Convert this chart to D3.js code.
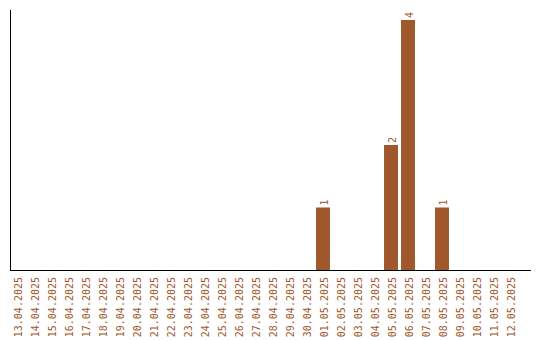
<!DOCTYPE html>
<html>
<head>
<meta charset="utf-8">
<script src="https://cdn.jsdelivr.net/npm/d3@7"></script>
<style>
  body { margin: 0; background: #fff; }
</style>
</head>
<body>
<div class="viz"></div>
<script>
const w = 540;
const h = 340;

const dates = ["13.04.2025", "14.04.2025", "15.04.2025", "16.04.2025", "17.04.2025",
    "18.04.2025", "19.04.2025", "20.04.2025", "21.04.2025", "22.04.2025",
    "23.04.2025", "24.04.2025", "25.04.2025", "26.04.2025", "27.04.2025",
    "28.04.2025", "29.04.2025", "30.04.2025", "01.05.2025", "02.05.2025",
    "03.05.2025", "04.05.2025", "05.05.2025", "06.05.2025", "07.05.2025",
    "08.05.2025", "09.05.2025", "10.05.2025", "11.05.2025", "12.05.2025"];
const counts = [0, 0, 0, 0, 0, 0, 0, 0, 0, 0,
    0, 0, 0, 0, 0, 0, 0, 0, 1, 0,
    0, 0, 2, 4, 0, 1, 0, 0, 0, 0];

const color = "#a0572b";

const data = dates.map((d, i) => ({ date: d, count: counts[i] }));

const svg = d3.select(".viz")
    .append("svg")
    .attr("width", w)
    .attr("height", h)
    .style("font-family", "'DejaVu Sans Mono', monospace");

const x = d3.scaleBand()
    .domain(dates)
    .range([8.5, 518.5])
    .paddingInner(0.18)
    .paddingOuter(0.09);

const y = d3.scaleLinear()
    .domain([0, 4])
    .range([270, 20]);

// bars
svg.selectAll("rect")
    .data(data.filter(d => d.count > 0))
    .enter()
    .append("rect")
    .attr("x", d => x(d.date))
    .attr("y", d => y(d.count))
    .attr("width", x.bandwidth())
    .attr("height", d => y(0) - y(d.count))
    .style("fill", color);

// value labels
svg.selectAll(".val")
    .data(data.filter(d => d.count > 0))
    .enter()
    .append("text")
    .attr("class", "val")
    .attr("transform", d => `translate(${x(d.date) + x.bandwidth() / 2},${y(d.count) - 2}) rotate(-90)`)
    .attr("dy", "0.45em")
    .style("font-size", "10px")
    .style("fill", color)
    .text(d => d.count);

// axis lines
svg.append("line")
    .attr("x1", 10.5).attr("x2", 10.5)
    .attr("y1", 10).attr("y2", 270)
    .style("stroke", "black");

svg.append("line")
    .attr("x1", 10).attr("x2", 531)
    .attr("y1", 270.5).attr("y2", 270.5)
    .style("stroke", "black");

// tick labels
svg.selectAll(".tick")
    .data(dates)
    .enter()
    .append("text")
    .attr("class", "tick")
    .attr("transform", d => `translate(${x(d) + x.bandwidth() / 2},277) rotate(-90)`)
    .attr("dy", "0.5em")
    .attr("text-anchor", "end")
    .style("font-size", "10px")
    .style("fill", color)
    .text(d => d);
</script>
</body>
</html>
